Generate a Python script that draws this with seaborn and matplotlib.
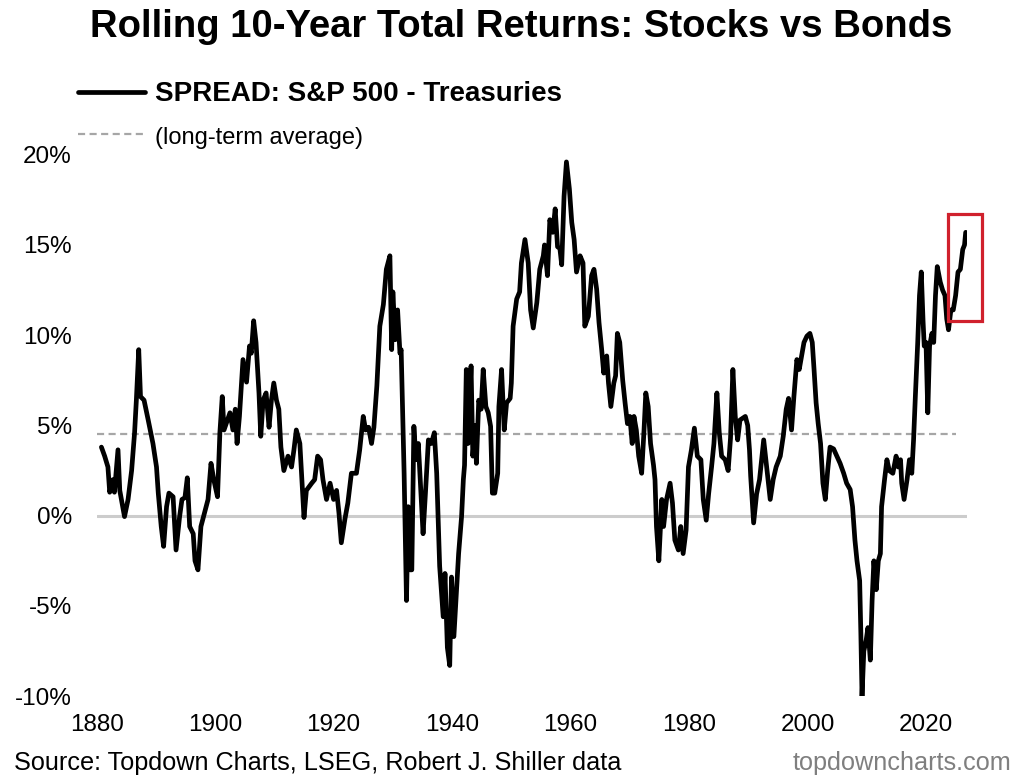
"""
Rolling 10-year total returns: S&P 500 minus Treasuries.
Values hand-read from the Topdown Charts picture.
"""

import pandas as pd
import matplotlib.pyplot as plt
import matplotlib.ticker as mticker
from matplotlib.patches import Rectangle
import seaborn as sns


# ============================================================================
# DATA (% per year)
# ============================================================================

YEARS = [
    1880.8, 1881.35, 1881.9, 1882.2, 1882.75, 1883.0, 1883.6, 1883.9, 1884.7, 1885.3,
    1885.9, 1886.4, 1886.7, 1887.1, 1887.4, 1888.0, 1888.7, 1889.5, 1890.1, 1890.4,
    1890.9, 1891.3, 1891.8, 1892.2, 1892.9, 1893.4, 1894.0, 1894.4, 1894.9, 1895.3,
    1895.7, 1896.3, 1896.6, 1897.1, 1897.6, 1898.2, 1898.8, 1899.3, 1899.8, 1900.4,
    1900.8, 1901.2, 1901.5, 1902.5, 1903.0, 1903.4, 1903.7, 1904.1, 1904.7, 1905.3,
    1905.8, 1906.1, 1906.5, 1906.9, 1907.4, 1907.7, 1908.1, 1908.6, 1909.1, 1909.5,
    1909.9, 1910.35, 1910.75, 1911.1, 1911.6, 1912.3, 1912.9, 1913.3, 1913.7, 1914.3,
    1914.6, 1915.0, 1915.4, 1916.3, 1916.8, 1917.3, 1917.8, 1918.2, 1918.8, 1919.4,
    1920.0, 1920.5, 1920.9, 1921.3, 1921.9, 1922.4, 1923.0, 1923.85, 1924.4, 1925.0,
    1925.4, 1925.9, 1926.4, 1926.8, 1927.3, 1927.8, 1928.4, 1928.9, 1929.5, 1929.8,
    1930.0, 1930.4, 1930.8, 1931.2, 1931.4, 1931.9, 1932.3, 1932.6, 1932.9, 1933.2,
    1933.55, 1933.9, 1934.3, 1934.8, 1935.1, 1935.5, 1936.0, 1936.5, 1937.0, 1937.4,
    1937.9, 1938.5, 1938.8, 1939.2, 1939.6, 1939.9, 1940.3, 1940.75, 1941.1, 1941.6,
    1941.9, 1942.1, 1942.4, 1942.7, 1943.2, 1943.5, 1943.9, 1944.1, 1944.5, 1944.9,
    1945.25, 1945.7, 1946.1, 1946.5, 1946.8, 1947.2, 1947.7, 1947.9, 1948.35, 1948.8,
    1949.2, 1949.8, 1950.0, 1950.3, 1950.9, 1951.4, 1951.7, 1952.3, 1952.85, 1953.25,
    1953.7, 1954.3, 1954.8, 1955.4, 1955.6, 1956.1, 1956.5, 1957.0, 1957.4, 1957.8,
    1958.2, 1958.5, 1958.9, 1959.3, 1959.8, 1960.2, 1960.6, 1961.0, 1961.6, 1962.1,
    1962.4, 1963.0, 1963.55, 1963.95, 1964.4, 1964.8, 1965.25, 1965.6, 1966.1, 1966.4,
    1966.8, 1967.3, 1967.6, 1967.9, 1968.3, 1968.8, 1969.2, 1969.6, 1970.0, 1970.4,
    1970.7, 1971.1, 1971.5, 1972.0, 1972.4, 1972.7, 1973.1, 1973.5, 1974.0, 1974.25,
    1974.5, 1974.9, 1975.4, 1975.7, 1976.2, 1976.8, 1977.2, 1977.6, 1978.2, 1978.6,
    1979.0, 1979.5, 1979.9, 1980.4, 1980.9, 1981.4, 1982.0, 1982.4, 1982.9, 1983.3,
    1983.8, 1984.2, 1984.7, 1985.1, 1985.5, 1986.1, 1986.6, 1987.0, 1987.4, 1987.8,
    1988.2, 1988.6, 1989.5, 1989.9, 1990.2, 1990.4, 1990.9, 1991.4, 1991.9, 1992.6,
    1993.1, 1993.7, 1994.2, 1994.7, 1995.4, 1995.9, 1996.4, 1996.8, 1997.3, 1997.7,
    1998.2, 1998.6, 1999.0, 1999.4, 1999.9, 2000.4, 2000.8, 2001.1, 2001.45, 2001.8,
    2002.2, 2002.6, 2003.0, 2003.4, 2003.8, 2004.4, 2004.95, 2005.5, 2006.1, 2006.6,
    2007.2, 2007.6, 2008.0, 2008.35, 2008.8, 2009.0, 2009.2, 2009.5, 2009.9, 2010.2,
    2010.6, 2010.9, 2011.2, 2011.6, 2011.95, 2012.3, 2012.5, 2013.0, 2013.4, 2013.8,
    2014.4, 2014.95, 2015.3, 2015.7, 2015.9, 2016.3, 2016.8, 2017.2, 2017.6, 2017.9,
    2018.2, 2018.6, 2018.9, 2019.2, 2019.5, 2019.7, 2020.0, 2020.3, 2020.6, 2021.0,
    2021.3, 2021.6, 2021.9, 2022.4, 2022.8, 2023.2, 2023.5, 2023.8, 2024.2, 2024.6,
    2025.0, 2025.4, 2025.8, 2026.2, 2026.5, 2026.7,
]

SPREAD_PCT = [
    3.8, 3.3, 2.7, 1.3, 2.0, 1.3, 3.65, 1.4, -0.05, 0.9,
    2.5, 4.6, 6.4, 9.2, 6.6, 6.4, 5.3, 4.0, 2.7, 1.25,
    -0.6, -1.7, 0.5, 1.25, 1.05, -1.9, -0.05, 0.9, 1.0, 2.1,
    -0.6, -1.0, -2.5, -3.0, -0.6, 0.15, 0.9, 2.9, 1.95, 1.05,
    4.6, 6.6, 4.75, 5.7, 4.75, 5.9, 4.0, 5.5, 8.65, 7.4,
    9.4, 9.0, 10.8, 9.6, 6.8, 4.4, 6.4, 6.8, 4.9, 6.4,
    7.35, 6.4, 5.9, 3.8, 2.5, 3.3, 2.7, 3.65, 4.75, 4.0,
    2.2, -0.1, 1.4, 1.8, 2.0, 3.3, 3.1, 2.0, 0.9, 1.8,
    0.9, 1.4, 0.15, -1.5, -0.2, 0.7, 2.35, 2.35, 3.65, 5.5,
    4.75, 4.9, 4.0, 4.9, 7.2, 10.5, 11.7, 13.65, 14.4, 9.2,
    12.4, 9.75, 11.4, 9.0, 9.2, 2.35, -4.7, 0.5, -3.0, -3.0,
    4.95, 3.1, 4.0, 0.9, -1.0, 1.25, 4.2, 4.0, 4.6, 2.35,
    -2.8, -5.6, -3.2, -7.3, -8.3, -3.4, -6.7, -4.1, -2.1, -0.05,
    2.0, 2.8, 8.1, 4.0, 8.3, 3.3, 5.0, 2.9, 6.4, 5.9,
    8.1, 6.05, 5.7, 4.95, 1.25, 1.25, 2.35, 6.05, 8.1, 4.75,
    6.25, 6.5, 7.35, 10.5, 12.0, 12.4, 14.0, 15.3, 14.0, 11.4,
    10.4, 11.8, 13.65, 14.4, 15.0, 13.3, 16.4, 15.7, 17.0, 14.9,
    14.8, 13.9, 17.7, 19.6, 18.1, 16.25, 15.3, 13.5, 14.4, 14.0,
    10.5, 11.05, 13.3, 13.65, 12.55, 10.7, 9.2, 7.9, 8.85, 7.35,
    6.05, 7.35, 7.75, 10.1, 9.6, 7.5, 6.25, 5.1, 5.5, 4.0,
    5.5, 4.75, 3.3, 2.35, 4.75, 6.8, 6.05, 4.0, 2.8, 2.0,
    -0.6, -2.5, 0.9, -0.6, 0.9, 1.8, 0.7, -1.35, -1.9, -0.6,
    -2.1, -0.8, 2.7, 3.65, 4.85, 3.3, 3.1, 0.9, -0.25, 1.2,
    2.7, 4.0, 6.8, 4.6, 3.3, 3.1, 2.5, 4.3, 8.1, 5.5,
    4.2, 5.3, 5.5, 5.0, 3.65, 2.2, -0.4, 1.2, 2.0, 4.2,
    2.7, 0.9, 2.0, 2.7, 3.3, 4.4, 5.9, 6.5, 4.75, 6.6,
    8.65, 8.1, 8.85, 9.6, 9.95, 10.1, 9.6, 8.1, 6.25, 5.1,
    4.0, 1.8, 0.9, 2.5, 3.8, 3.7, 3.3, 2.9, 2.35, 1.8,
    1.45, 0.5, -1.35, -2.5, -3.6, -6.5, -10.0, -7.5, -6.9, -6.2,
    -8.0, -4.7, -2.5, -4.1, -2.5, -2.1, 0.5, 2.0, 3.1, 2.5,
    2.35, 3.3, 2.7, 3.1, 1.8, 0.9, 2.0, 3.1, 2.35, 4.2,
    6.6, 9.6, 12.2, 13.5, 10.8, 9.4, 9.6, 5.7, 9.4, 10.1,
    9.6, 12.2, 13.8, 12.95, 12.5, 12.2, 10.9, 10.3, 11.4, 11.4,
    12.2, 13.5, 13.65, 14.75, 15.0, 15.7,
]

# Long-term average of the spread and the span it is drawn over
AVG_PCT = 4.5
AVG_YEARS = [1880, 2025]

# Red highlight box around the latest readings
BOX_YEARS = (2023.7, 2029.4)
BOX_PCT = (10.8, 16.7)

X_TICKS = list(range(1880, 2021, 20))
Y_TICKS = list(range(-10, 21, 5))

TITLE = "Rolling 10-Year Total Returns: Stocks vs Bonds"
SPREAD_LABEL = "SPREAD: S&P 500 - Treasuries"
AVG_LABEL = "(long-term average)"
SOURCE = "Source: Topdown Charts, LSEG, Robert J. Shiller data"
WEBSITE = "topdowncharts.com"


# ============================================================================
# PLOT
# ============================================================================

def main():
    sns.set_style("white")
    plt.rcParams["font.family"] = ["Liberation Sans", "DejaVu Sans"]
    plt.rcParams["text.color"] = "black"

    spread = pd.DataFrame({"year": YEARS, "spread": SPREAD_PCT})
    average = pd.DataFrame({"year": AVG_YEARS, "spread": [AVG_PCT] * len(AVG_YEARS)})

    fig = plt.figure(figsize=(10.24, 7.77), dpi=100)
    ax = fig.add_axes([0.0944, 0.104, 0.8504, 0.6969])

    # zero line first so the series sits on top of it
    ax.axhline(0, color="#cccccc", lw=2.2, zorder=1)

    sns.lineplot(data=spread, x="year", y="spread", color="black", lw=3.4,
                 estimator=None, label=SPREAD_LABEL, ax=ax, zorder=3)
    sns.lineplot(data=average, x="year", y="spread", color="#a6a6a6", lw=1.6,
                 linestyle=(0, (3.2, 2.0)), estimator=None, label=AVG_LABEL,
                 ax=ax, zorder=2)

    ax.add_patch(Rectangle((BOX_YEARS[0], BOX_PCT[0]),
                           BOX_YEARS[1] - BOX_YEARS[0], BOX_PCT[1] - BOX_PCT[0],
                           fill=False, edgecolor="#d0212d", lw=2.3,
                           clip_on=False, zorder=4))

    ax.set_xlim(1880, 2027)
    ax.set_ylim(-10, 20)
    ax.set_xticks(X_TICKS)
    ax.set_yticks(Y_TICKS)
    ax.yaxis.set_major_formatter(mticker.FuncFormatter(lambda v, _: f"{v:.0f}%"))
    ax.set_xlabel("")
    ax.set_ylabel("")
    ax.tick_params(axis="both", length=0, labelsize=17.5, colors="black")
    ax.tick_params(axis="y", pad=17.8)
    ax.tick_params(axis="x", pad=12.5)
    sns.despine(ax=ax, left=True, bottom=True)

    handles, labels = ax.get_legend_handles_labels()
    leg = ax.legend(handles, labels, loc="upper left",
                    bbox_to_anchor=(0.0762, 0.8952), bbox_transform=fig.transFigure,
                    frameon=False, fontsize=20, handlelength=2.41,
                    handletextpad=0.36, labelspacing=0.62,
                    borderpad=0, borderaxespad=0)
    texts = leg.get_texts()
    texts[0].set_fontweight("bold")
    texts[1].set_fontsize(17)
    for t in texts:
        t.set_color("black")

    fig.text(0.509, 0.9524, TITLE, ha="center", va="baseline",
             fontsize=27.5, fontweight="bold", color="black")
    fig.text(0.014, 0.009, SOURCE, ha="left", va="baseline", fontsize=18.2,
             color="black")
    fig.text(0.988, 0.009, WEBSITE, ha="right", va="baseline", fontsize=18.2,
             color="#7f7f7f")

    fig.savefig("out.png", dpi=100)
    plt.close(fig)


if __name__ == "__main__":
    main()
